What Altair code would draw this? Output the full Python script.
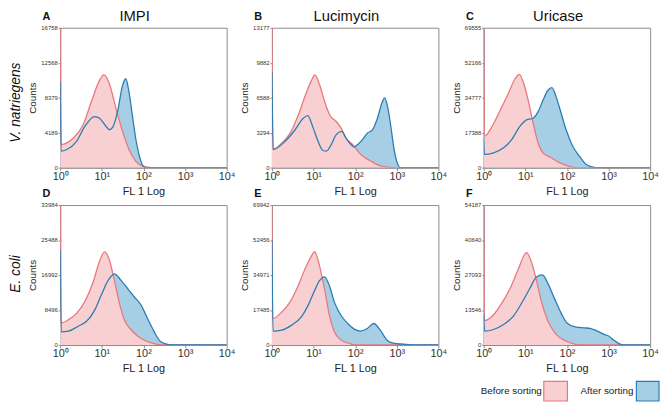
import altair as alt
import pandas as pd

# ---------------- data ----------------
x_tick_values = [1, 10, 100, 1000, 10000]
x_tick_labels = ["10⁰", "10¹", "10²", "10³", "10⁴"]

titles = ["IMPI", "Lucimycin", "Uricase", "", "", ""]
letters = ["A", "B", "C", "D", "E", "F"]
row_labels = ["V. natriegens", "E. coli"]
legend_labels = ["Before sorting", "After sorting"]

a_ticks = [0, 4189, 8379, 12568, 16758]
b_ticks = [0, 3294, 6588, 9882, 13177]
c_ticks = [0, 17388, 34777, 52166, 69555]
d_ticks = [0, 8496, 16992, 25488, 33984]
e_ticks = [0, 17485, 34971, 52456, 69942]
f_ticks = [0, 13546, 27093, 40640, 54187]

a_red_x = [1, 1.05, 2.07, 3.55, 5.6, 8.8, 11.2, 15.2, 21.8, 31.5, 45, 65, 93, 160, 10000]
a_red_y = [16758, 2760, 3550, 5126, 7886, 10449, 11119, 10055, 7097, 4337, 2169, 789, 197, 0, 0]
a_blue_x = [1, 1.05, 1.44, 2.47, 3.9, 6.7, 8.8, 12.7, 15.2, 18.2, 23.9, 31.5, 37.6, 45, 54, 65, 78, 93, 111, 10000]
a_blue_y = [10252, 1971, 2169, 3154, 4929, 6112, 5915, 4929, 4534, 4810, 6703, 9858, 10646, 9069, 6309, 3549, 1577, 394, 0, 0]

b_red_x = [1, 1.05, 1.73, 2.73, 4.3, 6.8, 8.9, 10.7, 14.1, 18.5, 24.4, 35, 46, 60, 87, 137, 238, 410, 850, 10000]
b_red_y = [13177, 1705, 2325, 3255, 4961, 7131, 8216, 8743, 7751, 6201, 4961, 4341, 3720, 2790, 2170, 1240, 620, 155, 0, 0]
b_blue_x = [1, 1.07, 2.07, 3.6, 5.65, 7.2, 9.8, 12.8, 16.9, 20.3, 26.6, 35, 47.7, 60, 79, 95, 115, 150, 198, 261, 343, 450, 510, 590, 710, 850, 1020, 1230, 10000]
b_blue_y = [9000, 1705, 2480, 3565, 4651, 4899, 3720, 2480, 1612, 1550, 2170, 3100, 3410, 2790, 2170, 1953, 2170, 2635, 3255, 3565, 4651, 6201, 6573, 5891, 4031, 1860, 465, 0, 0]

c_red_x = [1, 1.04, 1.58, 2.5, 3.9, 5.66, 7.2, 8.9, 11.7, 15.4, 20.3, 26.6, 42, 66, 105, 165, 10000]
c_red_y = [69555, 15548, 20457, 28640, 36823, 44188, 46316, 42551, 33550, 22094, 12274, 7365, 4910, 2455, 818, 0, 0]
c_blue_x = [1, 1.04, 1.73, 3.0, 4.7, 7.4, 10.7, 15.4, 20.3, 26.6, 35, 43.6, 55, 72.6, 95.5, 138, 199, 285, 410, 480, 10000]
c_blue_y = [15000, 6546, 7365, 9820, 13911, 20457, 23730, 24548, 27821, 33550, 38459, 39768, 35186, 27003, 18820, 10638, 5728, 1637, 327, 0, 0]

d_red_x = [1, 1.04, 1.58, 2.5, 3.9, 6.2, 8.9, 11.7, 15.4, 20, 26.5, 34.7, 50, 72, 114, 179, 300, 10000]
d_red_y = [33984, 5332, 6128, 7720, 10506, 15281, 20454, 22603, 20454, 15679, 10108, 6128, 3741, 2149, 955, 318, 0, 0]
d_blue_x = [1, 1.06, 1.58, 2.7, 4.3, 6.8, 9.7, 14.2, 20, 29, 42, 60, 87, 124, 179, 257, 370, 430, 10000]
d_blue_y = [23000, 3183, 3343, 4536, 5730, 8516, 12097, 15679, 17270, 15679, 13689, 11700, 9710, 6526, 3343, 796, 159, 0, 0]

e_red_x = [1, 1.04, 1.73, 2.7, 4.27, 6.7, 8.9, 10.6, 13.9, 18.3, 24, 31.6, 45.5, 71, 95, 10000]
e_red_y = [69942, 13166, 16457, 21394, 29623, 39497, 44434, 46573, 39497, 27977, 14811, 6583, 2469, 823, 0, 0]
e_blue_x = [1, 1.06, 1.73, 2.97, 5.1, 7.4, 10.6, 13.9, 18.3, 24, 31.6, 45.5, 66, 95, 136, 195, 280, 400, 576, 830, 1440, 2240, 10000]
e_blue_y = [52660, 6912, 7406, 9874, 13989, 19748, 27154, 32091, 34066, 29623, 21394, 14811, 10697, 7899, 6912, 8229, 10697, 7406, 2469, 823, 329, 0, 0]

f_red_x = [1, 1.04, 1.73, 2.7, 4.3, 6.8, 10.7, 14.1, 18.5, 24.4, 35, 55, 87, 137, 200, 10000]
f_red_y = [54187, 9391, 11675, 16116, 21827, 29441, 35786, 31979, 25000, 16751, 9137, 4061, 1777, 508, 0, 0]
f_blue_x = [1, 1.05, 1.73, 3.0, 5.1, 8.1, 12.8, 18.5, 25.7, 35, 50, 72.6, 100, 165, 260, 375, 540, 780, 1000, 1340, 1780, 2330, 10000]
f_blue_y = [12000, 5330, 5964, 7868, 11040, 16116, 21827, 26268, 27157, 23730, 18020, 12309, 8502, 6853, 6599, 6345, 5330, 4061, 3426, 1777, 508, 0, 0]

# ---------------- styling ----------------
RED_LINE = "#e8787e"
RED_FILL = "#f8d0d2"
BLUE_LINE = "#2a7db3"
BLUE_FILL = "#a6cfe5"
FRAME = "#8c8c8c"
FONT = "Liberation Sans"
W, H = 169, 142

label_expr = " : ".join(
    f"datum.value == {v} ? '{l}'" for v, l in zip(x_tick_values, x_tick_labels)
) + " : ''"

one = pd.DataFrame({"k": [0]})


def panel(idx, rx, ry, bx, by, ticks):
    red = pd.DataFrame({"x": rx, "y": ry})
    blue = pd.DataFrame({"x": bx, "y": by})
    xenc = alt.X(
        "x:Q",
        scale=alt.Scale(type="log", domain=[1, 10000], nice=False),
        axis=alt.Axis(values=x_tick_values, labelExpr=label_expr, title="FL 1 Log",
                      labelFontSize=11, titleFontSize=11, tickSize=3, labelPadding=0,
                      titlePadding=4, grid=False, labelFlush=False),
    )
    yenc = alt.Y(
        "y:Q",
        scale=alt.Scale(domain=[0, ticks[-1]], nice=False, zero=True),
        axis=alt.Axis(values=ticks, title="Counts", format="d", labelFontSize=6,
                      titleFontSize=10, tickSize=2, labelPadding=1, titlePadding=3,
                      grid=False),
    )
    layers = [
        alt.Chart(blue).mark_area(interpolate="monotone", color=BLUE_FILL, clip=True).encode(x=xenc, y=yenc),
        alt.Chart(red).mark_area(interpolate="monotone", color=RED_FILL, clip=True).encode(x=xenc, y=yenc),
        alt.Chart(red).mark_line(interpolate="monotone", color=RED_LINE, strokeWidth=1.3, clip=True).encode(x=xenc, y=yenc),
        alt.Chart(blue).mark_line(interpolate="monotone", color=BLUE_LINE, strokeWidth=1.3, clip=True).encode(x=xenc, y=yenc),
        alt.Chart(one).mark_text(text=letters[idx], font=FONT, fontSize=11, fontWeight="bold",
                                 align="left", baseline="alphabetic", color="#111")
        .encode(x=alt.value(-18), y=alt.value(-8)),
    ]
    if titles[idx]:
        layers.append(
            alt.Chart(one).mark_text(text=titles[idx], font=FONT, fontSize=15, align="center",
                                     baseline="alphabetic", color="#111")
            .encode(x=alt.value(W / 2 - 9), y=alt.value(-7))
        )
    if idx % 3 == 0:
        row = idx // 3
        layers.append(
            alt.Chart(one).mark_text(text=row_labels[row], font=FONT, fontSize=14, fontStyle="italic",
                                     angle=270, align="center", baseline="middle", color="#111")
            .encode(x=alt.value(-45), y=alt.value(76 if row == 0 else 70))
        )
    if idx == 5:
        layers += [
            alt.Chart(one).mark_text(text=legend_labels[0], font=FONT, fontSize=10, align="right",
                                     baseline="middle", color="#222")
            .encode(x=alt.value(59), y=alt.value(189)),
            alt.Chart(one).mark_rect(fill=RED_FILL, stroke=RED_LINE, strokeWidth=1.2)
            .encode(x=alt.value(61), x2=alt.value(85), y=alt.value(179), y2=alt.value(199)),
            alt.Chart(one).mark_text(text=legend_labels[1], font=FONT, fontSize=10, align="right",
                                     baseline="middle", color="#222")
            .encode(x=alt.value(152), y=alt.value(189)),
            alt.Chart(one).mark_rect(fill=BLUE_FILL, stroke=BLUE_LINE, strokeWidth=1.2)
            .encode(x=alt.value(155), x2=alt.value(178), y=alt.value(179), y2=alt.value(199)),
        ]
    return alt.layer(*layers).properties(width=W, height=H)


panels = [
    panel(0, a_red_x, a_red_y, a_blue_x, a_blue_y, a_ticks),
    panel(1, b_red_x, b_red_y, b_blue_x, b_blue_y, b_ticks),
    panel(2, c_red_x, c_red_y, c_blue_x, c_blue_y, c_ticks),
    panel(3, d_red_x, d_red_y, d_blue_x, d_blue_y, d_ticks),
    panel(4, e_red_x, e_red_y, e_blue_x, e_blue_y, e_ticks),
    panel(5, f_red_x, f_red_y, f_blue_x, f_blue_y, f_ticks),
]

chart = (
    alt.concat(*panels, columns=3, spacing=alt.RowColnumber(row=38, column=46), bounds="flush")
    .properties(padding={"left": 0, "top": -3, "right": 0, "bottom": 0}, background="white")
    .configure_view(stroke=FRAME, strokeWidth=1)
    .configure_axis(domainColor=FRAME, tickColor=FRAME, labelColor="#333", titleColor="#222",
                    labelFont=FONT, titleFont=FONT, titleFontWeight="normal")
)

chart.save("out.html", embed_options={"renderer": "svg", "actions": False})
